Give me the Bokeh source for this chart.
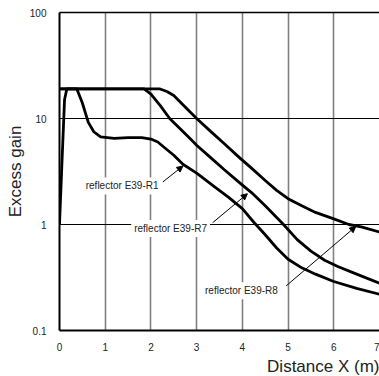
from bokeh.plotting import figure
from bokeh.models import (FixedTicker, LinearAxis, Label, Arrow, NormalHead, Title,
                          CustomJSTickFormatter, Range1d)
from bokeh.embed import file_html
from bokeh.resources import INLINE

# ---- data ----
r1_x = [0, 0.05, 0.11, 0.16, 0.38, 0.5, 0.63, 0.75, 0.9, 1.2, 1.5, 1.8, 2.0, 2.15, 2.3, 2.5,
        2.7, 3.0, 3.43, 3.7, 4.0, 4.25, 4.5, 4.75, 5.0, 5.3, 5.6, 6.0, 6.5, 7.0]
r1_y = [1.0, 3.5, 15, 19, 19, 14, 9.2, 7.5, 6.7, 6.5, 6.6, 6.6, 6.4, 6.0, 5.3, 4.5,
        3.7, 3.05, 2.2, 1.8, 1.41, 1.05, 0.8, 0.6, 0.47, 0.39, 0.34, 0.29, 0.25, 0.22]

r7_x = [0, 0.5, 1.0, 1.5, 1.85, 2.0, 2.2, 2.41, 2.6, 2.85, 3.0, 3.3, 3.6, 3.93, 4.2, 4.5,
        4.9, 5.2, 5.5, 5.8, 6.1, 6.5, 7.0]
r7_y = [19, 19, 19, 19, 19, 17, 13.3, 10, 8.3, 6.5, 5.6, 4.3, 3.3, 2.5, 2.0, 1.5,
        1.0, 0.72, 0.56, 0.46, 0.4, 0.34, 0.28]

r8_x = [0, 0.5, 1.0, 1.5, 2.0, 2.2, 2.35, 2.5, 2.7, 3.0, 3.3, 3.6, 3.93, 4.2, 4.5, 4.75,
        5.0, 5.3, 5.6, 6.0, 6.33, 6.6, 7.0]
r8_y = [19, 19, 19, 19, 19, 19, 18, 16.5, 13.5, 10, 7.6, 5.8, 4.3, 3.4, 2.6, 2.1,
        1.75, 1.5, 1.3, 1.13, 1.0, 0.95, 0.85]

x_ticks = [0, 1, 2, 3, 4, 5, 6, 7]
x_grid = [1, 2, 3, 4, 5, 6]
y_ticks = [0.1, 1, 10, 100]
y_grid = [1, 10]

label_text = ["reflector E39-R1", "reflector E39-R7", "reflector E39-R8"]
label_x = [1.37, 2.43, 3.98]
label_y = [2.31, 0.918, 0.237]
arrow_x0 = [2.26, 3.35, 4.96]
arrow_y0 = [2.52, 1.04, 0.264]
arrow_x1 = [2.70, 4.11, 6.48]
arrow_y1 = [3.56, 1.95, 0.957]

FONT = "Liberation Sans"

p = figure(width=379, height=376, x_range=Range1d(0, 7), y_range=Range1d(0.1, 100),
           y_axis_type="log", output_backend="svg", toolbar_location=None,
           min_border_left=59, min_border_right=0, min_border_top=12, min_border_bottom=43)
p.outline_line_color = None
p.background_fill_color = "white"
p.border_fill_color = "white"

# grids
p.xgrid.ticker = FixedTicker(ticks=x_grid)
p.xgrid.grid_line_color = "#808080"
p.xgrid.grid_line_width = 1.6
p.ygrid.ticker = FixedTicker(ticks=y_grid)
p.ygrid.grid_line_color = "black"
p.ygrid.grid_line_width = 1.2

# axes
for ax in (p.xaxis[0], p.yaxis[0]):
    ax.axis_line_width = 2
    ax.axis_line_color = "black"
    ax.major_tick_line_color = None
    ax.minor_tick_line_color = None
    ax.major_label_text_font = FONT
    ax.major_label_text_font_size = "10px"
    ax.major_label_text_color = "#222222"
    ax.formatter = CustomJSTickFormatter(code="return String(tick);")
p.xaxis[0].ticker = FixedTicker(ticks=x_ticks)
p.xaxis[0].major_label_standoff = 6
p.yaxis[0].ticker = FixedTicker(ticks=y_ticks)
p.yaxis[0].major_label_standoff = 7
p.yaxis[0].axis_label = "Excess gain"
p.yaxis[0].axis_label_text_font = FONT
p.yaxis[0].axis_label_text_font_size = "17px"
p.yaxis[0].axis_label_text_font_style = "normal"
p.yaxis[0].axis_label_text_color = "#222222"
p.yaxis[0].axis_label_standoff = 2

top = LinearAxis(ticker=FixedTicker(ticks=[]), axis_line_width=1.5, axis_line_color="black",
                 major_tick_line_color=None, minor_tick_line_color=None,
                 major_label_text_font_size="0px")
p.add_layout(top, "above")

p.add_layout(Title(text="Distance X (m)", align="right", text_font=FONT,
                   text_font_size="17px", text_font_style="normal",
                   text_color="#222222", standoff=2), "below")

# curves
for xs, ys in ((r1_x, r1_y), (r7_x, r7_y), (r8_x, r8_y)):
    p.line(xs, ys, line_width=2.8, line_color="black", line_join="round")

# labels and arrows
for i in range(len(label_text)):
    p.add_layout(Arrow(x_start=arrow_x0[i], y_start=arrow_y0[i], x_end=arrow_x1[i], y_end=arrow_y1[i],
                       line_width=1, line_color="black",
                       end=NormalHead(size=6, fill_color="black", line_color="black", line_width=1)))
    p.add_layout(Label(x=label_x[i], y=label_y[i], text=label_text[i], text_font=FONT,
                       text_font_size="10px", text_color="#222222", text_align="center",
                       text_baseline="middle", background_fill_color="white", padding=3))

open("out.html", "w").write(file_html(p, INLINE))
